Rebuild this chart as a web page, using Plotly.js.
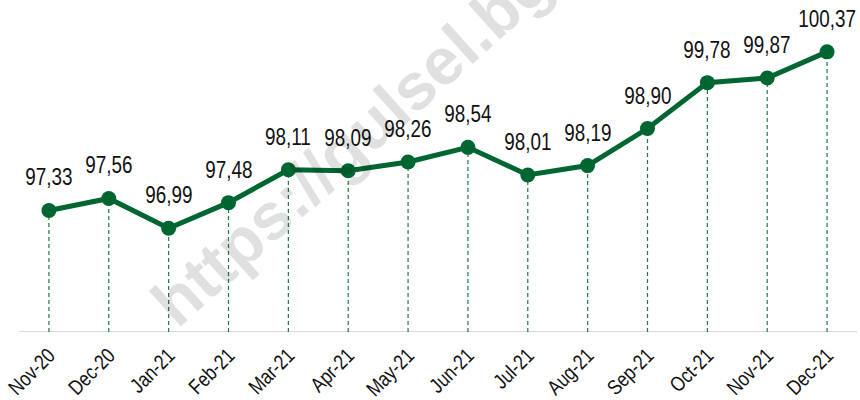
<!DOCTYPE html>
<html>
<head>
<meta charset="utf-8">
<script src="https://cdn.plot.ly/plotly-3.0.1.min.js"></script>
<style>
html,body{margin:0;padding:0;background:#fff;overflow:hidden;}
#chart{width:860px;height:400px;}
</style>
</head>
<body>
<div id="chart"></div>
<script>
const categories = ["Nov-20","Dec-20","Jan-21","Feb-21","Mar-21","Apr-21","May-21","Jun-21","Jul-21","Aug-21","Sep-21","Oct-21","Nov-21","Dec-21"];
const values = [97.33, 97.56, 96.99, 97.48, 98.11, 98.09, 98.26, 98.54, 98.01, 98.19, 98.90, 99.78, 99.87, 100.37];
const yMin = 95;
const yMax = 101;
const watermark = "https://gulsel.bg";

const green = "#006631";
const sans = "'Liberation Sans', Arial, sans-serif";

// drop lines from each point down to the axis
const dropX = [], dropY = [];
categories.forEach((c, i) => { dropX.push(c, c, null); dropY.push(yMin, values[i], null); });

const traces = [
  {
    x: dropX, y: dropY, type: "scatter", mode: "lines",
    line: {color: "#1f7a45", width: 1.2, dash: "4px,3px"},
    hoverinfo: "skip", showlegend: false
  },
  {
    x: categories, y: values, type: "scatter", mode: "lines+markers",
    line: {color: green, width: 5},
    marker: {color: green, size: 15},
    showlegend: false, cliponaxis: false
  }
];

const annotations = categories.map((c, i) => ({
  x: c, y: values[i], xref: "x", yref: "y",
  text: values[i].toFixed(2).replace(".", ","),
  showarrow: false, yanchor: "middle", yshift: 33,
  font: {family: sans, size: 23, color: "#111"}
}));
annotations.unshift({
  xref: "paper", yref: "paper", x: 0.397, y: 0.606,
  text: watermark, showarrow: false, textangle: -42,
  font: {family: sans, size: 66, color: "rgba(0,0,0,0.12)", weight: "bold"}
});

const layout = {
  width: 860, height: 400,
  margin: {l: 19, r: 3, t: 19, b: 68},
  paper_bgcolor: "#fff", plot_bgcolor: "#fff",
  separators: ",.",
  xaxis: {
    type: "category", categoryorder: "array", categoryarray: categories,
    range: [-0.5, categories.length - 0.5],
    tickangle: -45, showgrid: false, zeroline: false, automargin: false,
    showline: false, ticks: "", ticklabelstandoff: 6,
    tickfont: {family: sans, size: 21, color: "#111"}
  },
  yaxis: {
    range: [yMin, yMax], showgrid: false, zeroline: false, automargin: false,
    showticklabels: false, showline: false, ticks: ""
  },
  shapes: [{
    type: "line", xref: "paper", yref: "y", x0: 0, x1: 1, y0: yMin, y1: yMin,
    line: {color: "#d9d9d9", width: 2}, layer: "below"
  }],
  annotations: annotations
};

function narrowText(sel, factor) {
  document.querySelectorAll(sel).forEach(t => {
    const len = t.getComputedTextLength();
    if (len > 0) {
      t.setAttribute("textLength", (len * factor).toFixed(2));
      t.setAttribute("lengthAdjust", "spacingAndGlyphs");
    }
  });
}

Plotly.newPlot("chart", traces, layout, {displayModeBar: false, staticPlot: true}).then(() => {
  const labels = Array.from(document.querySelectorAll("#chart .annotation-text-g text"))
    .filter(t => t.textContent !== watermark);
  labels.forEach(t => {
    const len = t.getComputedTextLength();
    t.setAttribute("textLength", (len * 0.82).toFixed(2));
    t.setAttribute("lengthAdjust", "spacingAndGlyphs");
  });
  narrowText("#chart g.xtick text", 0.82);
});
</script>
</body>
</html>
